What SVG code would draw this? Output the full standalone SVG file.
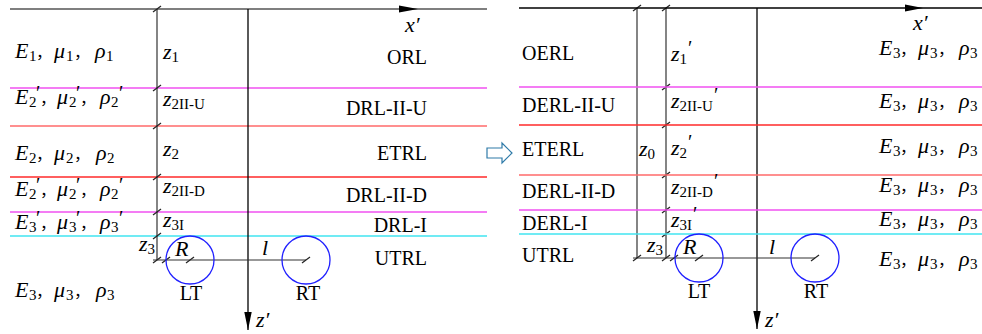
<svg xmlns="http://www.w3.org/2000/svg" width="982" height="334" viewBox="0 0 982 334">
<style>
.it{font-family:"Liberation Serif",serif;font-style:italic;font-size:22px;fill:#000}
.rm{font-family:"Liberation Serif",serif;font-size:20px;fill:#000}
.s{font-style:normal;font-size:15px}
.pr{font-style:normal;font-size:20px}
.c{font-family:"Liberation Serif","Noto Sans CJK SC",serif;font-style:normal;font-size:16px}
.ln{stroke-width:1.4;fill:none}
.mg{stroke:#f050f0}
.rd{stroke:#ff2a2a}
.sa{stroke:#ff6a6a}
.cy{stroke:#40e4f0}
.dim{stroke:#333;stroke-width:1.2;fill:none}
.ax{stroke:#000;stroke-width:1.3;fill:none}
.circ{stroke:#2020ff;stroke-width:1.3;fill:none}
.tk{stroke:#222;stroke-width:1.2}
</style>
<defs>
<path id="tick" class="tk" d="M-4,3 L4,-3"/>
<marker id="ah" viewBox="0 0 18 8" refX="18" refY="4" markerWidth="18" markerHeight="8" orient="auto" markerUnits="userSpaceOnUse">
<path d="M0,0.3 L18,4 L0,7.7 z" fill="#000"/>
</marker>
</defs>

<!-- LEFT PANEL -->
<g id="left-layers">
<path class="ln" stroke="#555" d="M10,9 H487"/>
<path class="ln mg" d="M10,88 H487"/>
<path class="ln sa" d="M10,126 H487"/>
<path class="ln rd" d="M10,177 H487"/>
<path class="ln mg" d="M10,212 H487"/>
<path class="ln cy" d="M10,236 H487"/>
</g>

<g id="connectors">
<polygon points="399,5.5 418,9 399,12.5" fill="#000"/>
<path class="ax" d="M248,9 V330" marker-end="url(#ah)"/>
<path class="dim" d="M157,9 V260"/>
<path class="dim" d="M153,260 H306"/>
<use href="#tick" x="157" y="9"/>
<use href="#tick" x="157" y="88"/>
<use href="#tick" x="157" y="126"/>
<use href="#tick" x="157" y="177"/>
<use href="#tick" x="157" y="212"/>
<use href="#tick" x="157" y="236"/>
<use href="#tick" x="157" y="260"/>
<use href="#tick" x="166" y="260"/>
<use href="#tick" x="190" y="260"/>
<use href="#tick" x="306" y="260"/>
<polygon points="905,4.5 923,8 905,11.5" fill="#000"/>
<path class="ax" d="M757,8 V329" marker-end="url(#ah)"/>
<path class="dim" d="M637,8 V258"/>
<path class="dim" d="M666,8 V258"/>
<path class="dim" d="M633,258 H815"/>
<use href="#tick" x="637" y="8"/>
<use href="#tick" x="666" y="8"/>
<use href="#tick" x="666" y="87"/>
<use href="#tick" x="666" y="125"/>
<use href="#tick" x="666" y="175"/>
<use href="#tick" x="666" y="210"/>
<use href="#tick" x="666" y="234"/>
<use href="#tick" x="637" y="258"/>
<use href="#tick" x="666" y="258"/>
<use href="#tick" x="674" y="258"/>
<use href="#tick" x="699" y="258"/>
<use href="#tick" x="815" y="258"/>
<polygon points="487,148 502,148 502,143 512,153 502,163 502,158 487,158" fill="#fff" stroke="#2e7aa8" stroke-width="1.2"/>
</g>

<g id="left-labels">
<text class="it" x="405" y="32">x′</text>
<text class="it" x="256" y="327">z′</text>
<text class="it" y="58"><tspan x="15">E</tspan><tspan class="s" x="29" dy="3">1</tspan><tspan class="c" x="36" dy="-3">，</tspan><tspan x="54">μ</tspan><tspan class="s" x="66" dy="3">1</tspan><tspan class="c" x="74" dy="-3">，</tspan><tspan x="95">ρ</tspan><tspan class="s" x="106" dy="3">1</tspan></text>
<text class="it" y="104"><tspan x="15">E</tspan><tspan class="s" x="29" dy="3">2</tspan><tspan class="pr" x="36" dy="-7">′</tspan><tspan class="c" x="40" dy="4">，</tspan><tspan x="57">μ</tspan><tspan class="s" x="69" dy="3">2</tspan><tspan class="pr" x="76" dy="-7">′</tspan><tspan class="c" x="80" dy="4">，</tspan><tspan x="100">ρ</tspan><tspan class="s" x="111" dy="3">2</tspan><tspan class="pr" x="119" dy="-7">′</tspan></text>
<text class="it" y="160"><tspan x="15">E</tspan><tspan class="s" x="29" dy="3">2</tspan><tspan class="c" x="36" dy="-3">，</tspan><tspan x="54">μ</tspan><tspan class="s" x="66" dy="3">2</tspan><tspan class="c" x="74" dy="-3">，</tspan><tspan x="96">ρ</tspan><tspan class="s" x="107" dy="3">2</tspan></text>
<text class="it" y="196"><tspan x="15">E</tspan><tspan class="s" x="29" dy="3">2</tspan><tspan class="pr" x="36" dy="-7">′</tspan><tspan class="c" x="40" dy="4">，</tspan><tspan x="57">μ</tspan><tspan class="s" x="69" dy="3">2</tspan><tspan class="pr" x="76" dy="-7">′</tspan><tspan class="c" x="80" dy="4">，</tspan><tspan x="100">ρ</tspan><tspan class="s" x="111" dy="3">2</tspan><tspan class="pr" x="119" dy="-7">′</tspan></text>
<text class="it" y="229"><tspan x="15">E</tspan><tspan class="s" x="29" dy="3">3</tspan><tspan class="pr" x="36" dy="-7">′</tspan><tspan class="c" x="40" dy="4">，</tspan><tspan x="57">μ</tspan><tspan class="s" x="69" dy="3">3</tspan><tspan class="pr" x="76" dy="-7">′</tspan><tspan class="c" x="80" dy="4">，</tspan><tspan x="100">ρ</tspan><tspan class="s" x="111" dy="3">3</tspan><tspan class="pr" x="119" dy="-7">′</tspan></text>
<text class="it" y="297"><tspan x="15">E</tspan><tspan class="s" x="29" dy="3">3</tspan><tspan class="c" x="36" dy="-3">，</tspan><tspan x="54">μ</tspan><tspan class="s" x="66" dy="3">3</tspan><tspan class="c" x="74" dy="-3">，</tspan><tspan x="96">ρ</tspan><tspan class="s" x="107" dy="3">3</tspan></text>

<text class="it" x="163" y="59">z<tspan class="s" dy="3">1</tspan></text>
<text class="it" x="163" y="106">z<tspan class="s" dy="3">2II-U</tspan></text>
<text class="it" x="163" y="156">z<tspan class="s" dy="3">2</tspan></text>
<text class="it" x="163" y="193">z<tspan class="s" dy="3">2II-D</tspan></text>
<text class="it" x="163" y="227">z<tspan class="s" dy="3">3I</tspan></text>
<text class="it" x="139" y="251">z<tspan class="s" dy="3">3</tspan></text>

<text class="rm" text-anchor="end" x="427" y="64">ORL</text>
<text class="rm" text-anchor="end" x="427" y="115">DRL-II-U</text>
<text class="rm" text-anchor="end" x="427" y="160">ETRL</text>
<text class="rm" text-anchor="end" x="427" y="202">DRL-II-D</text>
<text class="rm" text-anchor="end" x="427" y="232">DRL-I</text>
<text class="rm" text-anchor="end" x="427" y="265">UTRL</text>
</g>

<g id="left-LT">
<circle class="circ" cx="190" cy="260" r="24"/>
<text class="it" x="175" y="256">R</text>
<text class="rm" text-anchor="middle" x="191" y="300">LT</text>
</g>
<g id="left-RT">
<circle class="circ" cx="306" cy="260" r="24"/>
<text class="rm" text-anchor="middle" x="308" y="300">RT</text>
</g>
<text class="it" x="262" y="255">l</text>

<!-- RIGHT PANEL -->
<g id="right-layers">
<path class="ln" stroke="#000" d="M519,8 H982"/>
<path class="ln mg" d="M519,87 H982"/>
<path class="ln rd" d="M519,125 H982"/>
<path class="ln sa" d="M519,175 H982"/>
<path class="ln mg" d="M519,210 H982"/>
<path class="ln cy" d="M519,234 H982"/>
</g>

<g id="right-labels">
<text class="it" x="913" y="30">x′</text>
<text class="it" x="765" y="327">z′</text>
<text class="rm" x="522" y="60">OERL</text>
<text class="rm" x="522" y="112">DERL-II-U</text>
<text class="rm" x="522" y="156">ETERL</text>
<text class="rm" x="522" y="198">DERL-II-D</text>
<text class="rm" x="522" y="230">DERL-I</text>
<text class="rm" x="522" y="262">UTRL</text>

<text class="it" x="671" y="61">z<tspan class="s" dy="3">1</tspan><tspan class="pr" dx="1" dy="-9">′</tspan></text>
<text class="it" x="671" y="108">z<tspan class="s" dy="3">2II-U</tspan><tspan class="pr" dx="1" dy="-9">′</tspan></text>
<text class="it" x="671" y="155">z<tspan class="s" dy="3">2</tspan><tspan class="pr" dx="1" dy="-9">′</tspan></text>
<text class="it" x="671" y="194">z<tspan class="s" dy="3">2II-D</tspan><tspan class="pr" dx="1" dy="-9">′</tspan></text>
<text class="it" x="671" y="227">z<tspan class="s" dy="3">3I</tspan><tspan class="pr" dx="1" dy="-9">′</tspan></text>
<text class="it" x="639" y="156">z<tspan class="s" dy="3">0</tspan></text>
<text class="it" x="647" y="252">z<tspan class="s" dy="3">3</tspan></text>

<text class="it" y="55"><tspan x="879">E</tspan><tspan class="s" x="893" dy="3">3</tspan><tspan class="c" x="900" dy="-3">，</tspan><tspan x="918">μ</tspan><tspan class="s" x="930" dy="3">3</tspan><tspan class="c" x="938" dy="-3">，</tspan><tspan x="959">ρ</tspan><tspan class="s" x="970" dy="3">3</tspan></text>
<text class="it" y="108"><tspan x="879">E</tspan><tspan class="s" x="893" dy="3">3</tspan><tspan class="c" x="900" dy="-3">，</tspan><tspan x="918">μ</tspan><tspan class="s" x="930" dy="3">3</tspan><tspan class="c" x="938" dy="-3">，</tspan><tspan x="959">ρ</tspan><tspan class="s" x="970" dy="3">3</tspan></text>
<text class="it" y="153"><tspan x="879">E</tspan><tspan class="s" x="893" dy="3">3</tspan><tspan class="c" x="900" dy="-3">，</tspan><tspan x="918">μ</tspan><tspan class="s" x="930" dy="3">3</tspan><tspan class="c" x="938" dy="-3">，</tspan><tspan x="959">ρ</tspan><tspan class="s" x="970" dy="3">3</tspan></text>
<text class="it" y="192"><tspan x="879">E</tspan><tspan class="s" x="893" dy="3">3</tspan><tspan class="c" x="900" dy="-3">，</tspan><tspan x="918">μ</tspan><tspan class="s" x="930" dy="3">3</tspan><tspan class="c" x="938" dy="-3">，</tspan><tspan x="959">ρ</tspan><tspan class="s" x="970" dy="3">3</tspan></text>
<text class="it" y="226"><tspan x="879">E</tspan><tspan class="s" x="893" dy="3">3</tspan><tspan class="c" x="900" dy="-3">，</tspan><tspan x="918">μ</tspan><tspan class="s" x="930" dy="3">3</tspan><tspan class="c" x="938" dy="-3">，</tspan><tspan x="959">ρ</tspan><tspan class="s" x="970" dy="3">3</tspan></text>
<text class="it" y="266"><tspan x="879">E</tspan><tspan class="s" x="893" dy="3">3</tspan><tspan class="c" x="900" dy="-3">，</tspan><tspan x="918">μ</tspan><tspan class="s" x="930" dy="3">3</tspan><tspan class="c" x="938" dy="-3">，</tspan><tspan x="959">ρ</tspan><tspan class="s" x="970" dy="3">3</tspan></text>
</g>

<g id="right-LT">
<circle class="circ" cx="699" cy="258" r="24"/>
<text class="it" x="683" y="254">R</text>
<text class="rm" text-anchor="middle" x="699" y="298">LT</text>
</g>
<g id="right-RT">
<circle class="circ" cx="815" cy="258" r="24"/>
<text class="rm" text-anchor="middle" x="816" y="298">RT</text>
</g>
<text class="it" x="769" y="254">l</text>
</svg>
